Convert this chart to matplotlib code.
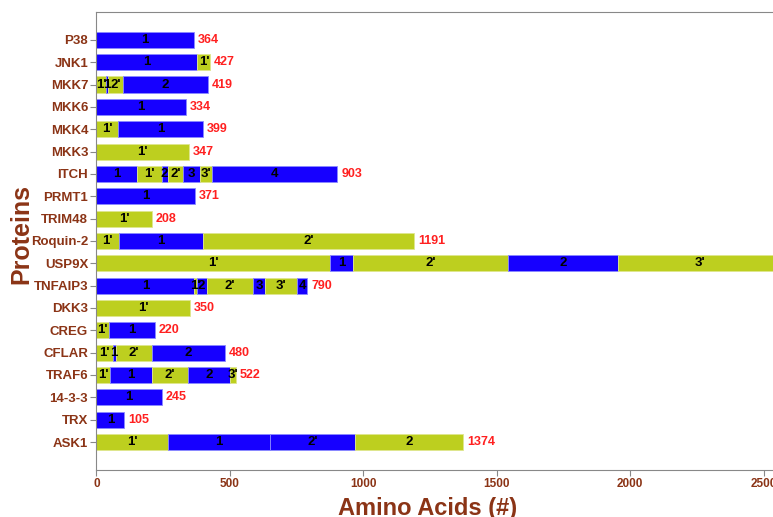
import matplotlib.pyplot as plt

plt.rcParams['font.family'] = ['Liberation Sans', 'DejaVu Sans']
plt.rcParams['font.weight'] = 'bold'

proteins = ["P38", "JNK1", "MKK7", "MKK6", "MKK4", "MKK3", "ITCH", "PRMT1",
            "TRIM48", "Roquin-2", "USP9X", "TNFAIP3", "DKK3", "CREG", "CFLAR",
            "TRAF6", "14-3-3", "TRX", "ASK1"]
lengths = [364, 427, 419, 334, 399, 347, 903, 371, 208, 1191, 2570, 790,
           350, 220, 480, 522, 245, 105, 1374]

# segment boundaries (amino acid positions), labels and kind (b = blue, y = yellow)
bounds = [
    [0, 364],
    [0, 378, 427],
    [0, 35, 45, 99, 419],
    [0, 334],
    [0, 80, 399],
    [0, 347],
    [0, 150, 244, 267, 325, 388, 432, 903],
    [0, 371],
    [0, 208],
    [0, 85, 400, 1191],
    [0, 875, 962, 1543, 1956, 2570],
    [0, 367, 375, 413, 588, 632, 752, 790],
    [0, 350],
    [0, 47, 220],
    [0, 61, 72, 208, 480],
    [0, 51, 209, 343, 500, 522],
    [0, 245],
    [0, 105],
    [0, 267, 650, 969, 1374],
]
seg_labels = [
    ["1"],
    ["1", "1'"],
    ["1'", "1", "2'", "2"],
    ["1"],
    ["1'", "1"],
    ["1'"],
    ["1", "1'", "2", "2'", "3", "3'", "4"],
    ["1"],
    ["1'"],
    ["1'", "1", "2'"],
    ["1'", "1", "2'", "2", "3'"],
    ["1", "1'", "2", "2'", "3", "3'", "4"],
    ["1'"],
    ["1'", "1"],
    ["1'", "1", "2'", "2"],
    ["1'", "1", "2'", "2", "3'"],
    ["1"],
    ["1"],
    ["1'", "1", "2'", "2"],
]
seg_kinds = [
    "b", "by", "ybyb", "b", "yb", "y", "bybybyb", "b", "y", "yby", "ybyby",
    "bybybyb", "y", "yb", "ybyb", "ybyby", "b", "b", "ybby",
]

colors = {"b": "#1600ff", "y": "#bdcf1f"}
edges = {"b": "#8a8aff", "y": "#dfe78f"}
brown = "#8b3416"

fig = plt.figure(figsize=(7.73, 5.17), dpi=100)
ax = fig.add_axes([0.1248, 0.091, 0.8752, 0.886])

n = len(proteins)
for i, name in enumerate(proteins):
    y = n - 1 - i
    b = bounds[i]
    for j in range(len(b) - 1):
        k = seg_kinds[i][j]
        ax.barh(y, b[j + 1] - b[j], left=b[j], height=0.72,
                color=colors[k], edgecolor=edges[k], linewidth=0.6)
        mid = (b[j] + b[j + 1]) / 2
        if mid < 2535:
            ax.text(mid, y, seg_labels[i][j], ha="center", va="center",
                    fontsize=9.5, fontweight="bold", color="black")
    if lengths[i] < 2535:
        ax.text(lengths[i] + 14, y, str(lengths[i]), ha="left", va="center",
                fontsize=9, fontweight="bold", color="#ff2020")

ax.set_xlim(0, 2535)
ax.set_ylim(-1.25, n - 1 + 1.25)
ax.set_yticks(range(n))
ax.set_yticklabels(proteins[::-1], fontsize=9.5, fontweight="bold", color=brown)
ax.set_xticks([0, 500, 1000, 1500, 2000, 2500])
ax.tick_params(axis="x", labelsize=8.5, labelcolor=brown, color="#888888",
               length=4, pad=2)
ax.tick_params(axis="y", color="#888888", length=4, pad=2)
for lab in ax.get_xticklabels():
    lab.set_fontweight("bold")

ax.set_xlabel("Amino Acids (#)", fontsize=17, fontweight="bold", color=brown)
ax.set_ylabel("Proteins", fontsize=18, fontweight="bold", color=brown)
ax.xaxis.set_label_coords(0.489, -0.058)
ax.yaxis.set_label_coords(-0.094, 0.515)

for side in ["left", "top", "bottom"]:
    ax.spines[side].set_color("#888888")
ax.spines["right"].set_visible(False)

fig.savefig("out.png", dpi=100)
